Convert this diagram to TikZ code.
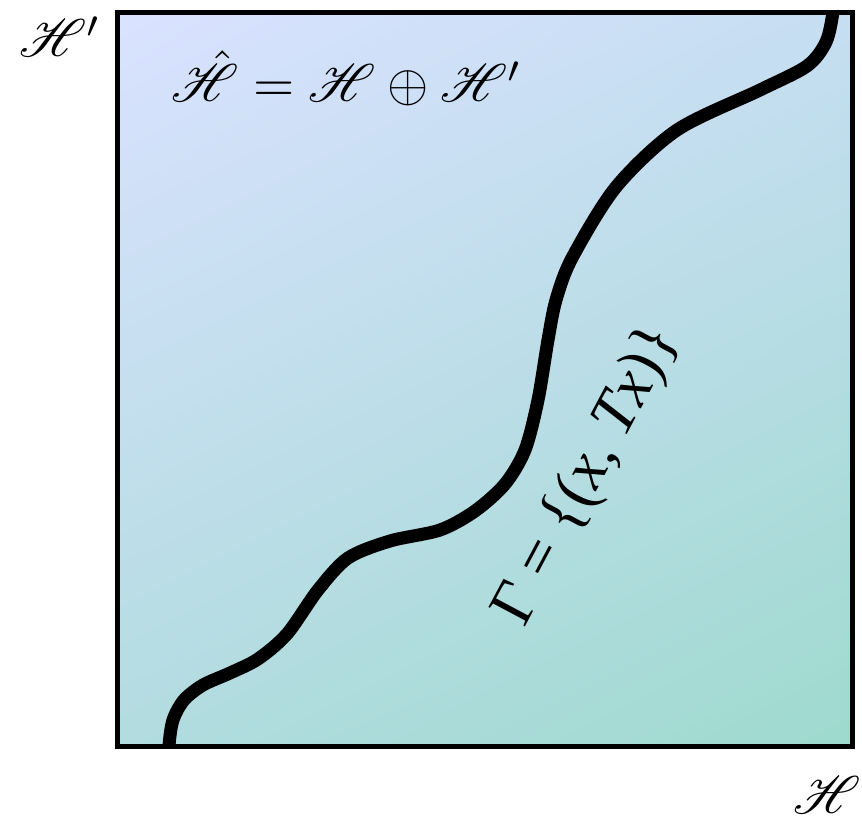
\documentclass[tikz,border=0pt]{standalone}
\usepackage{mathrsfs}
\usepackage{fontspec}
\usetikzlibrary{shadings}
\newfontfamily\timesfont{Liberation Serif}
\definecolor{cUL}{RGB}{218,226,255}
\definecolor{cUR}{RGB}{198,222,242}
\definecolor{cLL}{RGB}{178,220,224}
\definecolor{cLR}{RGB}{158,218,206}
\begin{document}
\begin{tikzpicture}[x=1pt,y=-1pt,
  frame/.style={draw=black,line width=5pt,inner sep=0pt,minimum width=735pt,minimum height=734pt},
  graphline/.style={line width=13pt,line join=round},
  bigmath/.style={font=\fontsize{10}{12}\selectfont,inner sep=0pt,scale=5.3},
  gammalabel/.style={font=\timesfont\fontsize{63}{69}\selectfont,inner sep=0pt,rotate=62}]
\useasboundingbox (0,0) rectangle (862,817);
\node[shade,upper left=cUL,upper right=cUR,lower left=cLL,lower right=cLR,minimum width=735pt,minimum height=734pt,inner sep=0pt] (bg) at (484.5,379) {};
\begin{scope}
\clip (bg.north west) rectangle (bg.south east);
\draw[graphline] plot[smooth,tension=0.5] coordinates {
(169,775) (169,746) (173,720) (184,700) (203,685) (230,673) (258,659) (287,634)
(318,590) (348,558) (390,541) (440,530) (475,511) (505,484) (525,450)
(538,400) (548,340) (556,300) (572,258) (616,187) (677,130) (760,90)
(807,66) (826,42) (833,12) (834,-10)};
\end{scope}
\node[frame] (box) at (484.5,379) {};
\node[bigmath] (hprime) at (60,37) {$\mathscr{H}'$};
\node[bigmath] (hlabel) at (827,795) {$\mathscr{H}$};
\node[bigmath] (formula) at (347,78) {$\hat{\mathscr{H}} = \mathscr{H} \oplus \mathscr{H}'$};
\node[gammalabel] (gamma) at (588,476) {Γ = \{(\textit{x}, \textit{Tx})\}};
\end{tikzpicture}
\end{document}
